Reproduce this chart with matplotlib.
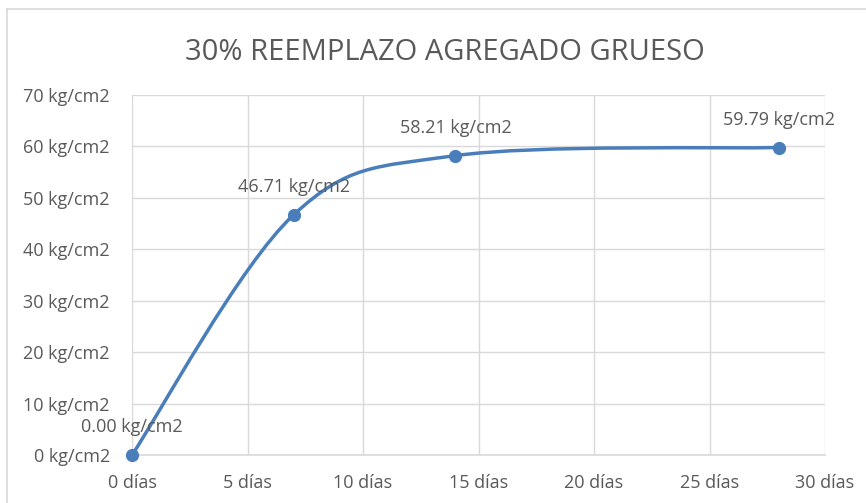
import numpy as np
import matplotlib.pyplot as plt
from matplotlib.path import Path
from matplotlib.patches import PathPatch
from matplotlib.lines import Line2D

# datos del ensayo
dias = [0, 7, 14, 28]
resistencia = [0.00, 46.71, 58.21, 59.79]
titulo = '30% REEMPLAZO AGREGADO GRUESO'
x_ticks = [0, 5, 10, 15, 20, 25, 30]
y_ticks = [0, 10, 20, 30, 40, 50, 60, 70]

gris = '#595959'
linea = '#d9d9d9'
azul = '#4a7ebb'

plt.rcParams['font.family'] = ['Open Sans', 'DejaVu Sans']


def curva_suave(x, y):
    """
    curva bezier tipo Excel (linea suavizada) a partir de los puntos
    """
    pts = np.column_stack([x, y]).astype(float)
    n = len(pts)
    verts = [pts[0]]
    codes = [Path.MOVETO]
    for i in range(n - 1):
        p0 = pts[max(i - 1, 0)]
        p1 = pts[i]
        p2 = pts[i + 1]
        p3 = pts[min(i + 2, n - 1)]
        c1 = p1 + (p2 - p0) / 6
        c2 = p2 - (p3 - p1) / 6
        verts += [c1, c2, p2]
        codes += [Path.CURVE4] * 3
    return Path(verts, codes)


fig = plt.figure(figsize=(8.66, 5.03), dpi=100)
ax = fig.add_axes([132 / 866, 48 / 503, 693 / 866, 360 / 503])

ax.add_patch(PathPatch(curva_suave(dias, resistencia), fill=False,
                       edgecolor=azul, lw=2.5, capstyle='round', zorder=3))
ax.plot(dias, resistencia, 'o', color=azul, ms=8.5, zorder=4, clip_on=False)

for d, r in zip(dias, resistencia):
    ax.annotate(f'{r:.2f} kg/cm2', (d, r), xytext=(0, 20), textcoords='offset points',
                ha='center', va='center', fontsize=13, color=gris, zorder=5)

ax.set_xlim(0, 30)
ax.set_ylim(0, 70)
ax.set_xticks(x_ticks)
ax.set_xticklabels([f'{v} días' for v in x_ticks])
ax.set_yticks(y_ticks)
ax.set_yticklabels([f'{v} kg/cm2' for v in y_ticks])
ax.tick_params(length=0, labelsize=13, labelcolor=gris)
ax.tick_params(axis='x', pad=14)
ax.tick_params(axis='y', pad=16)
ax.grid(True, color=linea, lw=1)
ax.set_axisbelow(True)
for s in ['top', 'right', 'left']:
    ax.spines[s].set_visible(False)
ax.spines['bottom'].set_color(linea)
ax.spines['bottom'].set_linewidth(1.2)

fig.text(445 / 866, 1 - 52 / 503, titulo, ha='center', va='center',
         fontsize=21, color=gris)

# borde del grafico
fig.add_artist(Line2D([7 / 866, 7 / 866], [0, 1 - 9 / 503], color=linea, lw=1.2,
                      transform=fig.transFigure))
fig.add_artist(Line2D([7 / 866, 1], [1 - 9 / 503, 1 - 9 / 503], color=linea, lw=1.2,
                      transform=fig.transFigure))

fig.savefig('out.png', dpi=100)
